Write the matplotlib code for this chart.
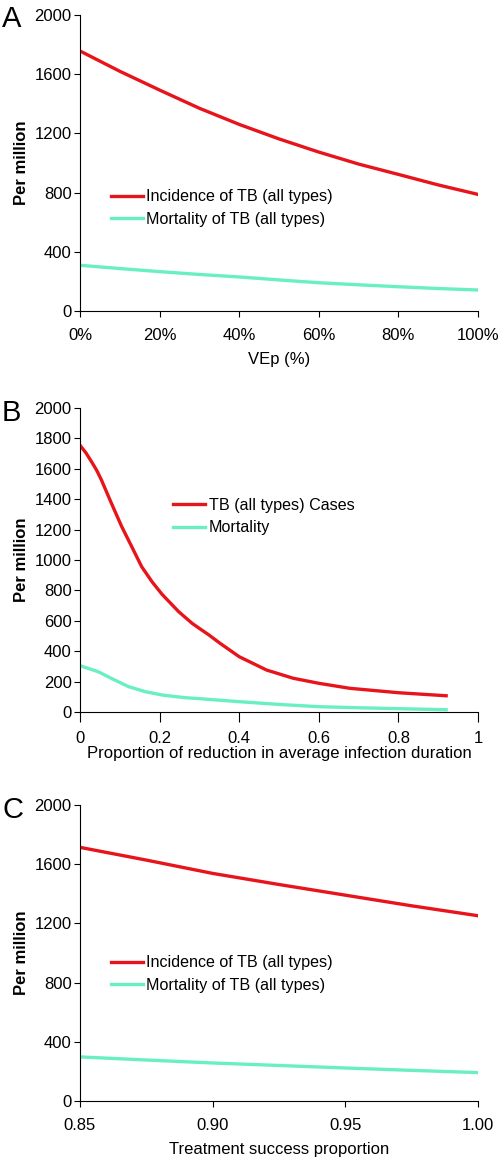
import matplotlib
matplotlib.use('Agg')
import matplotlib.pyplot as plt
from matplotlib.ticker import FixedLocator

plt.rcParams['font.family'] = ['Liberation Sans', 'DejaVu Sans']

# -----------------------------------------------------------------------------
# DATA
# -----------------------------------------------------------------------------
# Panel A: vaccine efficacy VEp (%)
vep = [0, 10, 20, 30, 40, 50, 60, 70, 80, 90, 100]
inc_a = [1757, 1620, 1493, 1370, 1261, 1163, 1074, 993, 923, 852, 788]
mort_a = [309, 287, 266, 247, 230, 210, 191, 177, 164, 152, 142]

# Panel B: proportion of reduction in infection duration
red_x = [0, 0.015, 0.029, 0.042, 0.054, 0.079, 0.105, 0.13, 0.155, 0.181, 0.206, 0.248, 0.282,
         0.30, 0.324, 0.352, 0.4, 0.469, 0.536, 0.6, 0.678, 0.8, 0.92]
inc_b = [1755, 1705, 1647, 1590, 1526, 1373, 1219, 1088, 956, 857, 775, 660, 583,
         550, 507, 452, 364, 276, 222, 189, 156, 127, 107]
mort_x = [0, 0.046, 0.079, 0.122, 0.164, 0.206, 0.265, 0.30, 0.324, 0.4, 0.5,
          0.6, 0.7, 0.8, 0.92]
mort_b = [305, 265, 221, 167, 134, 112, 94, 88, 83, 68, 50, 35, 28, 22, 15]

# Panel C: treatment success proportion
tsp = [0.85, 0.875, 0.90, 0.925, 0.95, 0.975, 1.00]
inc_c = [1714, 1628, 1538, 1463, 1391, 1319, 1252]
mort_c = [298, 277, 257, 240, 223, 207, 192]

RED = '#e8141b'
GREEN = '#6af0c0'
LW = 2.4
FS_TICK = 12
FS_LEG = 11.6

fig = plt.figure(figsize=(5, 11.57), dpi=100)
ax_a = fig.add_axes([0.16, 0.7312, 0.796, 0.2558])
ax_b = fig.add_axes([0.16, 0.3846, 0.796, 0.2627])
ax_c = fig.add_axes([0.16, 0.0484, 0.796, 0.2558])

leg_kw = dict(frameon=False, fontsize=FS_LEG, handlelength=2.0, handletextpad=0.2,
              borderpad=0, borderaxespad=0, labelspacing=0.45)


def style(ax):
    for s in ('top', 'right'):
        ax.spines[s].set_visible(False)
    ax.tick_params(direction='out', length=4, width=0.8, labelsize=FS_TICK, pad=2)
    ax.set_ylabel('Per million', fontsize=12, fontweight='bold', labelpad=4)


# Panel A
ax_a.plot(vep, inc_a, color=RED, lw=LW, label='Incidence of TB (all types)')
ax_a.plot(vep, mort_a, color=GREEN, lw=LW, label='Mortality of TB (all types)')
ax_a.set_xlim(0, 100); ax_a.set_ylim(0, 2000)
ax_a.xaxis.set_major_locator(FixedLocator([0, 20, 40, 60, 80, 100]))
ax_a.set_xticklabels([f'{v}%' for v in [0, 20, 40, 60, 80, 100]])
ax_a.yaxis.set_major_locator(FixedLocator([0, 400, 800, 1200, 1600, 2000]))
ax_a.set_xlabel('VEp (%)', fontsize=FS_TICK, labelpad=7)
style(ax_a)
ax_a.tick_params(axis='x', pad=8)
ax_a.legend(loc='center left', bbox_to_anchor=(0.078, 0.348), **leg_kw)

# Panel B
ax_b.plot(red_x, inc_b, color=RED, lw=LW, label='TB (all types) Cases')
ax_b.plot(mort_x, mort_b, color=GREEN, lw=LW, label='Mortality')
ax_b.set_xlim(0, 1); ax_b.set_ylim(0, 2000)
ax_b.xaxis.set_major_locator(FixedLocator([0, 0.2, 0.4, 0.6, 0.8, 1]))
ax_b.set_xticklabels(['0', '0.2', '0.4', '0.6', '0.8', '1'])
ax_b.yaxis.set_major_locator(FixedLocator(list(range(0, 2001, 200))))
ax_b.set_xlabel('Proportion of reduction in average infection duration', fontsize=FS_TICK, labelpad=0)
style(ax_b)
ax_b.tick_params(axis='x', length=7, pad=7)
ax_b.legend(loc='center left', bbox_to_anchor=(0.234, 0.643), **leg_kw)

# Panel C
ax_c.plot(tsp, inc_c, color=RED, lw=LW, label='Incidence of TB (all types)')
ax_c.plot(tsp, mort_c, color=GREEN, lw=LW, label='Mortality of TB (all types)')
ax_c.set_xlim(0.85, 1.0); ax_c.set_ylim(0, 2000)
ax_c.xaxis.set_major_locator(FixedLocator([0.85, 0.90, 0.95, 1.00]))
ax_c.set_xticklabels(['0.85', '0.90', '0.95', '1.00'])
ax_c.yaxis.set_major_locator(FixedLocator([0, 400, 800, 1200, 1600, 2000]))
ax_c.set_xlabel('Treatment success proportion', fontsize=FS_TICK, labelpad=7)
style(ax_c)
ax_c.tick_params(axis='x', pad=8)
ax_c.legend(loc='center left', bbox_to_anchor=(0.078, 0.429), **leg_kw)

# Panel letters
fig.text(0.004, 1 - 19 / 1157, 'A', fontsize=21, va='center', ha='left')
fig.text(0.004, 1 - 413 / 1157, 'B', fontsize=21, va='center', ha='left')
fig.text(0.004, 1 - 810 / 1157, 'C', fontsize=21, va='center', ha='left')

fig.savefig('out.png', dpi=100)
